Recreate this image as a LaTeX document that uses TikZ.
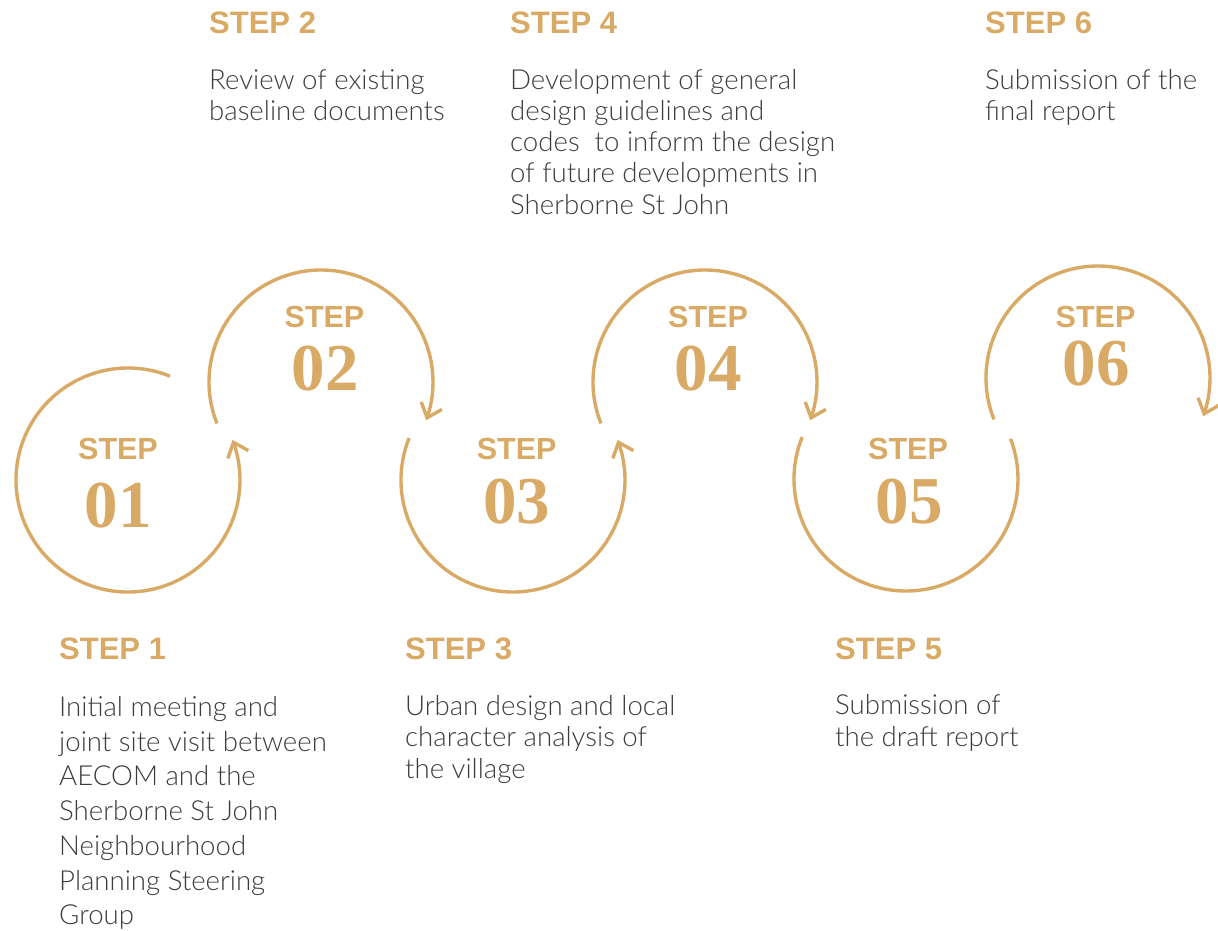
\documentclass[tikz,border=0pt]{standalone}
\usepackage{fontspec}
\usetikzlibrary{arrows.meta,bending}
\setmainfont{Liberation Sans}
\newfontfamily\headfont{Liberation Sans}[UprightFont=* Bold]
\newfontfamily\numfont{Liberation Serif}[UprightFont=* Bold]
\IfFontExistsTF{Lato Light}{\newfontfamily\bodyfont{Lato Light}}{\newfontfamily\bodyfont{Liberation Sans}}
\definecolor{gold}{HTML}{D9AA65}
\definecolor{bodygray}{HTML}{3C3C3C}
\tikzset{
  ring/.style={draw=gold, line width=3.4pt},
  ringarrow/.style={ring, -{Straight Barb[length=13pt,width=22pt,flex]}},
  headlbl/.style={anchor=base west, inner sep=0pt, text=gold, font=\headfont\fontsize{31}{31}\selectfont},
  steplbl/.style={anchor=base, inner sep=0pt, text=gold, font=\headfont\fontsize{30.5}{31}\selectfont},
  numlbl/.style={anchor=base, inner sep=0pt, text=gold, font=\numfont\fontsize{67}{67}\selectfont},
  bodylbl/.style={anchor=base west, inner sep=0pt, text=bodygray},
}
\newcommand{\bodytext}[2]{\bodyfont\fontsize{27.6}{#1}\selectfont\begin{tabular}[t]{@{}l@{}}#2\end{tabular}}
\begin{document}
\begin{tikzpicture}[x=1pt,y=1pt]
\useasboundingbox (0,0) rectangle (1218,-930);
% circle centres
\coordinate (c1) at (128,-480);
\coordinate (c2) at (321,-382);
\coordinate (c3) at (513,-480);
\coordinate (c4) at (705,-382);
\coordinate (c5) at (906,-479);
\coordinate (c6) at (1098,-378);
% rings
\draw[ringarrow] ([shift={(68:112)}]c1) arc[start angle=68, end angle=381, radius=112];
\draw[ringarrow] ([shift={(201.7:112)}]c2) arc[start angle=201.7, end angle=-20, radius=112];
\draw[ringarrow] ([shift={(158:112)}]c3) arc[start angle=158, end angle=381, radius=112];
\draw[ringarrow] ([shift={(201.7:112)}]c4) arc[start angle=201.7, end angle=-20, radius=112];
\draw[ring] ([shift={(158:112)}]c5) arc[start angle=158, end angle=381, radius=112];
\draw[ringarrow] ([shift={(201.7:112)}]c6) arc[start angle=201.7, end angle=-20, radius=112];
% ring labels
\node[steplbl] (s1) at (118,-459) {STEP};
\node[numlbl] (n1) at (118,-527) {01};
\node[steplbl] (s2) at (324.5,-327) {STEP};
\node[numlbl] (n2) at (325,-390) {02};
\node[steplbl] (s3) at (516.7,-459) {STEP};
\node[numlbl] (n3) at (516.7,-523) {03};
\node[steplbl] (s4) at (708,-327) {STEP};
\node[numlbl] (n4) at (708,-390) {04};
\node[steplbl] (s5) at (908,-459) {STEP};
\node[numlbl] (n5) at (909,-523) {05};
\node[steplbl] (s6) at (1095.5,-327) {STEP};
\node[numlbl] (n6) at (1096,-385) {06};
% headings
\node[headlbl] (h2) at (209,-33) {STEP 2};
\node[headlbl] (h4) at (510,-33) {STEP 4};
\node[headlbl] (h6) at (985,-33) {STEP 6};
\node[headlbl] (h1) at (59,-659) {STEP 1};
\node[headlbl] (h3) at (405,-659) {STEP 3};
\node[headlbl] (h5) at (835,-659) {STEP 5};
% descriptions
\node[bodylbl] (d2) at (209,-89) {\bodytext{31.5}{Review of existing\\baseline documents}};
\node[bodylbl] (d4) at (510,-89) {\bodytext{31.3}{Development of general\\design guidelines and\\codes\ \ to inform the design\\of future developments in\\Sherborne St John}};
\node[bodylbl] (d6) at (985,-89) {\bodytext{31.5}{Submission of the\\final report}};
\node[bodylbl] (d1) at (59,-716.5) {\bodytext{34.7}{Initial meeting and\\joint site visit between\\AECOM and the\\Sherborne St John\\Neighbourhood\\Planning Steering\\Group}};
\node[bodylbl] (d3) at (405,-715) {\bodytext{31.5}{Urban design and local\\character analysis of\\the village}};
\node[bodylbl] (d5) at (835,-714) {\bodytext{32}{Submission of\\the draft report}};
\end{tikzpicture}
\end{document}
